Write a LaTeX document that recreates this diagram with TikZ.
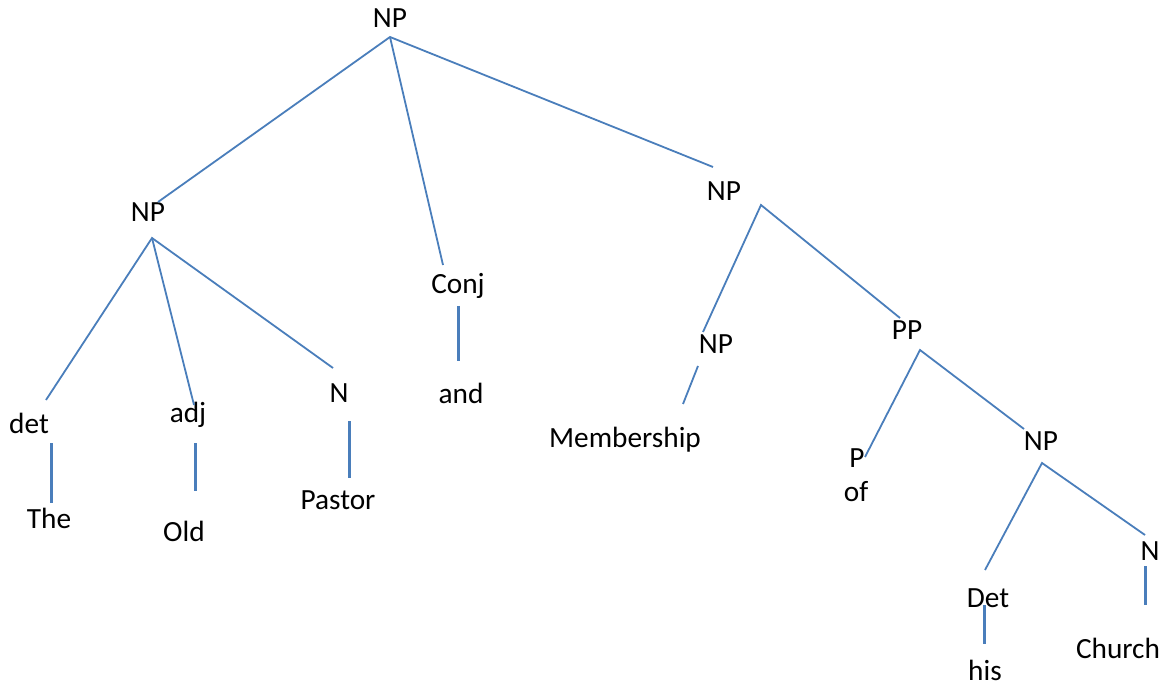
\documentclass[tikz,border=0pt]{standalone}
\usepackage{fontspec}
\setmainfont{Carlito}
\definecolor{branch}{HTML}{4A7EBB}
\begin{document}
\begin{tikzpicture}[x=1pt,y=-1pt,
  lbl/.style={anchor=base,inner sep=0pt,font=\fontsize{29.3}{32}\selectfont},
  edge/.style={draw=branch,line width=1.8pt},
  stem/.style={draw=branch,line width=3pt}]
\useasboundingbox (0,0) rectangle (1171,687);

% category labels and words
\node[lbl] (np0) at (390,28) {NP};
\node[lbl] (np1) at (148,222) {NP};
\node[lbl] (conj) at (458,294) {Conj};
\node[lbl] (np2) at (724,201) {NP};
\node[lbl] (det1) at (29,433) {det};
\node[lbl] (adj) at (188,422) {adj};
\node[lbl] (n1) at (339,402) {N};
\node[lbl] (and) at (461,403) {and};
\node[lbl] (the) at (49,528) {The};
\node[lbl] (old) at (184,541) {Old};
\node[lbl] (pastor) at (338,509) {Pastor};
\node[lbl] (np3) at (716,353) {NP};
\node[lbl] (memb) at (625,447) {Membership};
\node[lbl] (pp) at (907,340) {PP};
\node[lbl] (p) at (857,467) {P};
\node[lbl] (of) at (856,501) {of};
\node[lbl] (np4) at (1041,450) {NP};
\node[lbl] (det2) at (988,607) {Det};
\node[lbl] (n2) at (1150,560) {N};
\node[lbl] (his) at (985,680) {his};
\node[lbl] (church) at (1118,658) {Church};

% branch end points
\coordinate (a0) at (390,37);
\coordinate (a0l) at (158,202);
\coordinate (a0c) at (443,265);
\coordinate (a0r) at (713,167);
\coordinate (a1) at (152,238);
\coordinate (a1d) at (46,400);
\coordinate (a1a) at (194,405);
\coordinate (a1n) at (333,368);
\coordinate (a2) at (761,205);
\coordinate (a2n) at (703,332);
\coordinate (a2p) at (900,318);
\coordinate (a3t) at (698,366);
\coordinate (a3b) at (683,404);
\coordinate (a4) at (920,350);
\coordinate (a4p) at (865,457);
\coordinate (a4n) at (1024,429);
\coordinate (a5) at (1042,463);
\coordinate (a5d) at (985,570);
\coordinate (a5n) at (1145,535);

\coordinate (s1t) at (51,443);  \coordinate (s1b) at (51,503);
\coordinate (s2t) at (195,443); \coordinate (s2b) at (195,491);
\coordinate (s3t) at (349,421); \coordinate (s3b) at (349,478);
\coordinate (s4t) at (458,306); \coordinate (s4b) at (458,361);
\coordinate (s5t) at (984,605); \coordinate (s5b) at (984,644);
\coordinate (s6t) at (1145,566);\coordinate (s6b) at (1145,605);

% diagonal branches
\draw[edge] (a0l) -- (a0) -- (a0r);
\draw[edge] (a0) -- (a0c);
\draw[edge] (a1d) -- (a1) -- (a1n);
\draw[edge] (a1) -- (a1a);
\draw[edge] (a2n) -- (a2) -- (a2p);
\draw[edge] (a3t) -- (a3b);
\draw[edge] (a4p) -- (a4) -- (a4n);
\draw[edge] (a5d) -- (a5) -- (a5n);

% vertical stems to the words
\draw[stem] (s1t) -- (s1b);
\draw[stem] (s2t) -- (s2b);
\draw[stem] (s3t) -- (s3b);
\draw[stem] (s4t) -- (s4b);
\draw[stem] (s5t) -- (s5b);
\draw[stem] (s6t) -- (s6b);
\end{tikzpicture}
\end{document}
